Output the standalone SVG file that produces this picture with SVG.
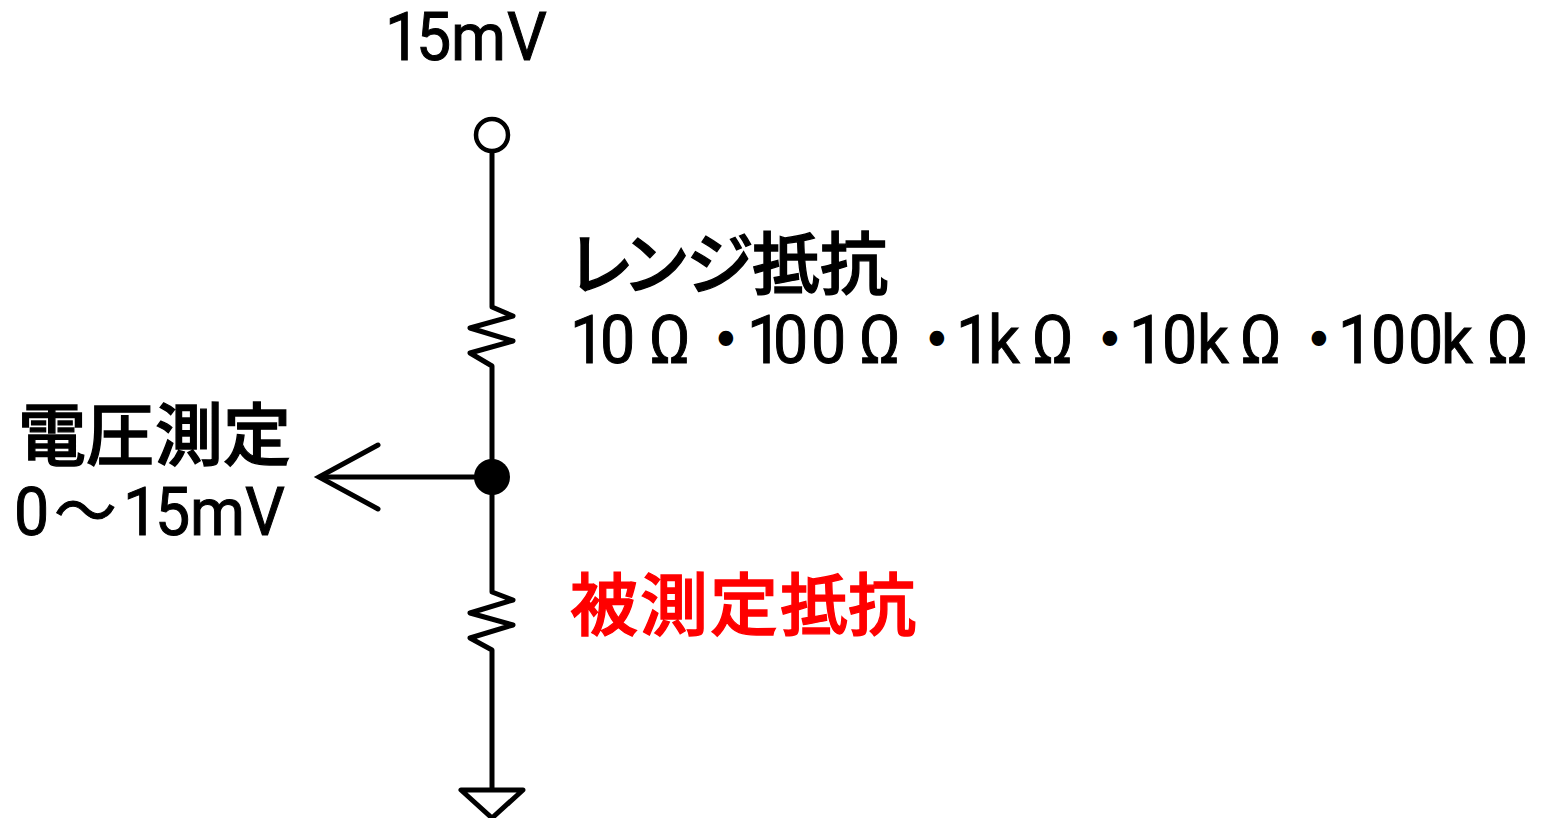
<svg xmlns="http://www.w3.org/2000/svg" width="1544" height="818" viewBox="0 0 1544 818">
<style>
.w{fill:none;stroke:#000;stroke-width:5;stroke-linejoin:round;stroke-linecap:round}
.t{font-family:"Noto Sans CJK JP","Liberation Sans",sans-serif;font-size:68px;font-weight:500;fill:#000;stroke:#000;stroke-width:1.300}
.n{font-family:Roboto,"Noto Sans CJK JP",sans-serif;font-size:66px;fill:#000;stroke:#000;stroke-width:1}
.d{font-family:"Noto Sans CJK JP",sans-serif;font-size:44px;stroke-width:6}
</style>
<rect width="1544" height="818" fill="#fff"/>
<g id="connectors">
<path class="w" d="M492 150V307L513 316L470 328L513 341L470 353L492 366V592L513 600L470 613L513 625L470 638L492 650V788"/>
<path class="w" d="M492 477H322"/>
<path class="w" style="stroke-linejoin:miter" d="M378 445L319 477L378 509"/>
</g>
<g id="terminal"><circle cx="492" cy="135" r="16" fill="#fff" stroke="#000" stroke-width="4.500"/></g>
<g id="junction"><circle cx="492" cy="477" r="18" fill="#000"/></g>
<g id="ground"><path class="w" d="M461 790H523L492 818Z"/></g>
<g id="label-source"><text class="n" transform="scale(.95 1)" x="405.300 437.900 474.700 533.700" y="60">15mV</text></g>
<g id="label-range">
<text class="t" x="566 622 686 752 820" y="289">レンジ抵抗</text>
<text class="n" transform="scale(.95 1)" y="363" x="600 631.600 683.200 742.100 786.300 813.700 853.700 904.200 964.200 1006.300 1040 1086.300 1146.300 1188.400 1223.200 1260 1305.300 1366.300 1408.400 1443.200 1482.100 1516.800 1565.300">10Ω<tspan class="d" dy="-8">・</tspan><tspan dy="8">100Ω</tspan><tspan class="d" dy="-8">・</tspan><tspan dy="8">1kΩ</tspan><tspan class="d" dy="-8">・</tspan><tspan dy="8">10kΩ</tspan><tspan class="d" dy="-8">・</tspan><tspan dy="8">100kΩ</tspan></text>
</g>
<g id="label-measure">
<text class="t" x="18 86 155 223" y="460">電圧測定</text>
<text class="n" transform="scale(.95 1)" x="14.700 56.800 129.500 163.200 200 257.900" y="535">0～15mV</text>
</g>
<g id="label-dut"><text class="t" x="570 640 710 780 848" y="630" style="fill:#f00;stroke:#f00">被測定抵抗</text></g>
</svg>
